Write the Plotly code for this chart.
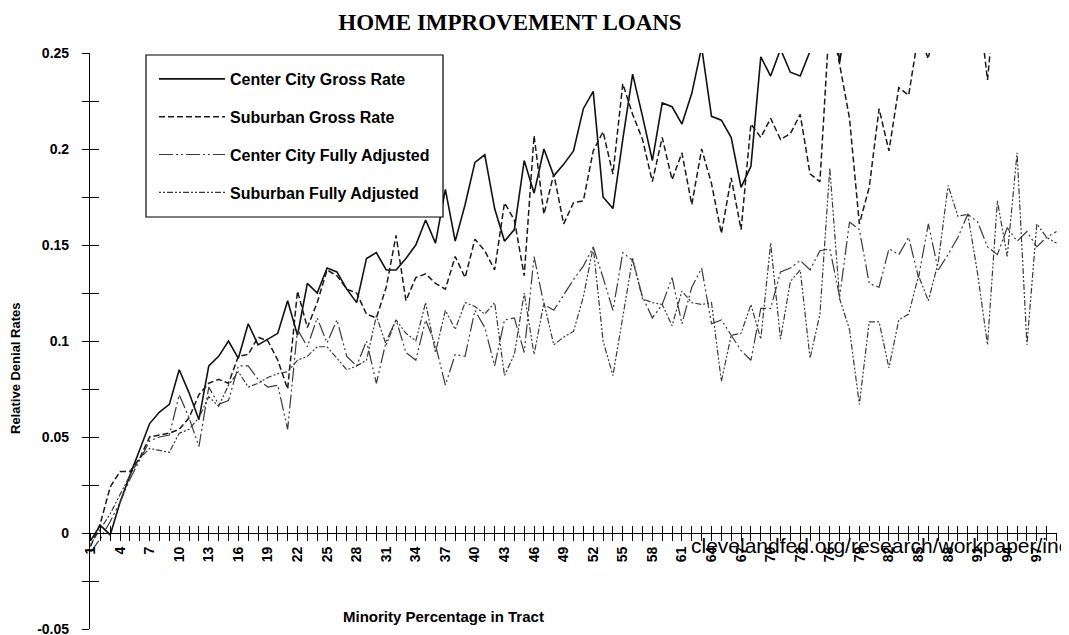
import plotly.graph_objects as go

# ---------------- data ----------------
categories = list(range(1, 100))  # minority percentage in tract

x_tick_labels = [str(c) if (c - 1) % 3 == 0 else "" for c in categories]

y_tick_values = [-0.05, -0.025, 0, 0.025, 0.05, 0.075, 0.1, 0.125, 0.15, 0.175, 0.2, 0.225, 0.25]
y_tick_labels = ["-0.05", "", "0", "", "0.05", "", "0.1", "", "0.15", "", "0.2", "", "0.25"]

center_city_gross = [
    -0.004, 0.004, -0.001, 0.016, 0.030, 0.043, 0.057, 0.063, 0.067, 0.085,
    0.073, 0.059, 0.087, 0.092, 0.100, 0.091, 0.109, 0.098, 0.101, 0.104,
    0.121, 0.103, 0.130, 0.125, 0.138, 0.136, 0.127, 0.120, 0.143, 0.146,
    0.137, 0.137, 0.143, 0.150, 0.163, 0.151, 0.179, 0.152, 0.171, 0.193,
    0.197, 0.169, 0.152, 0.158, 0.194, 0.177, 0.200, 0.186, 0.192, 0.199,
    0.221, 0.230, 0.175, 0.169, 0.205, 0.239, 0.217, 0.194, 0.224, 0.222,
    0.213, 0.229, 0.253, 0.217, 0.215, 0.206, 0.180, 0.191, 0.248, 0.238,
    0.252, 0.240, 0.238, 0.251, 0.270, 0.290, 0.245, 0.280, 0.270, 0.300,
    0.290, 0.310, 0.280, 0.300, 0.320, 0.290, 0.310, 0.300, 0.330, 0.290,
    0.310, 0.280, 0.300, 0.320, 0.290, 0.310, 0.300, 0.280, 0.300,
]

suburban_gross = [
    -0.007, 0.005, 0.024, 0.032, 0.032, 0.039, 0.050, 0.051, 0.052, 0.054,
    0.060, 0.072, 0.078, 0.080, 0.078, 0.092, 0.093, 0.102, 0.100, 0.090,
    0.075, 0.126, 0.107, 0.120, 0.137, 0.134, 0.127, 0.125, 0.114, 0.112,
    0.128, 0.155, 0.121, 0.133, 0.135, 0.130, 0.127, 0.144, 0.133, 0.153,
    0.147, 0.137, 0.172, 0.163, 0.134, 0.207, 0.166, 0.187, 0.161, 0.172,
    0.173, 0.199, 0.209, 0.187, 0.234, 0.218, 0.205, 0.183, 0.206, 0.184,
    0.198, 0.171, 0.200, 0.182, 0.156, 0.185, 0.158, 0.213, 0.206, 0.216,
    0.205, 0.208, 0.218, 0.187, 0.183, 0.270, 0.244, 0.216, 0.161, 0.180,
    0.221, 0.199, 0.232, 0.228, 0.260, 0.247, 0.280, 0.300, 0.290, 0.310,
    0.280, 0.236, 0.290, 0.310, 0.300, 0.320, 0.290, 0.300, 0.310,
]

center_city_adjusted = [
    -0.010, -0.003, 0.006, 0.016, 0.028, 0.038, 0.048, 0.050, 0.051, 0.072,
    0.060, 0.045, 0.076, 0.067, 0.069, 0.087, 0.087, 0.080, 0.076, 0.077,
    0.054, 0.106, 0.097, 0.112, 0.099, 0.111, 0.092, 0.087, 0.100, 0.078,
    0.100, 0.111, 0.094, 0.090, 0.111, 0.098, 0.077, 0.093, 0.092, 0.116,
    0.107, 0.087, 0.111, 0.112, 0.094, 0.144, 0.119, 0.116, 0.124, 0.132,
    0.139, 0.149, 0.133, 0.116, 0.146, 0.142, 0.123, 0.112, 0.119, 0.133,
    0.109, 0.128, 0.138, 0.109, 0.111, 0.103, 0.095, 0.090, 0.117, 0.117,
    0.136, 0.138, 0.142, 0.137, 0.147, 0.148, 0.123, 0.162, 0.158, 0.130,
    0.128, 0.148, 0.145, 0.154, 0.133, 0.161, 0.137, 0.145, 0.154, 0.166,
    0.162, 0.149, 0.145, 0.159, 0.152, 0.157, 0.149, 0.154, 0.157,
]

suburban_adjusted = [
    -0.006, 0.002, 0.010, 0.020, 0.030, 0.039, 0.044, 0.043, 0.042, 0.052,
    0.054, 0.060, 0.071, 0.066, 0.077, 0.084, 0.076, 0.078, 0.081, 0.083,
    0.084, 0.090, 0.092, 0.097, 0.097, 0.091, 0.085, 0.087, 0.090, 0.113,
    0.098, 0.111, 0.104, 0.100, 0.120, 0.094, 0.116, 0.106, 0.120, 0.118,
    0.114, 0.120, 0.082, 0.093, 0.125, 0.093, 0.120, 0.098, 0.102, 0.105,
    0.123, 0.149, 0.100, 0.082, 0.113, 0.143, 0.122, 0.120, 0.119, 0.108,
    0.126, 0.120, 0.119, 0.120, 0.079, 0.103, 0.104, 0.119, 0.101, 0.151,
    0.101, 0.131, 0.137, 0.091, 0.114, 0.190, 0.122, 0.106, 0.067, 0.110,
    0.110, 0.086, 0.111, 0.114, 0.134, 0.121, 0.141, 0.181, 0.165, 0.166,
    0.135, 0.098, 0.173, 0.144, 0.198, 0.098, 0.161, 0.154, 0.151,
]

series_names = [
    "Center City Gross Rate",
    "Suburban Gross Rate",
    "Center City Fully Adjusted",
    "Suburban Fully Adjusted",
]

# ---------------- geometry (screen pixels) ----------------
PAGE_OFFSET = 8                 # default body margin of the html page
FIG_W, FIG_H = 1069 - PAGE_OFFSET, 635 - PAGE_OFFSET + 4
PLOT_L, PLOT_T, PLOT_W, PLOT_H = 90, 53, 967, 576   # screen coords of plot area


def px(x):
    return (x - PLOT_L) / PLOT_W


def py(y):
    return (PLOT_T + PLOT_H - y) / PLOT_H


# ---------------- figure ----------------
fig = go.Figure()

styles = [
    dict(color="#111111", width=1.6, dash="solid"),
    dict(color="#1a1a1a", width=1.5, dash="6px,3px"),
    dict(color="#3a3a3a", width=1.2, dash="14px,3px,2px,3px,2px,3px"),
    dict(color="#3a3a3a", width=1.2, dash="2px,2px,2px,2px,6px,2px"),
]

for i, (name, vals) in enumerate(zip(series_names,
                                     [center_city_gross, suburban_gross,
                                      center_city_adjusted, suburban_adjusted])):
    fig.add_trace(go.Scatter(
        x=categories, y=vals, mode="lines", name=name,
        line=styles[i], legendgroup=f"g{i}",
    ))

# helper trace so the overlaid tick axes are drawn
fig.add_trace(go.Scatter(x=[None], y=[None], xaxis="x2", yaxis="y2",
                         showlegend=False, hoverinfo="skip"))

sans = "Liberation Sans, Arial, sans-serif"
tick_font = dict(family=sans, size=14, color="black", weight="bold")
x_range = [0.95, 99.05]
y_range = [-0.05, 0.25]
zero_pos = (0 - y_range[0]) / (y_range[1] - y_range[0])

fig.update_layout(
    width=FIG_W, height=FIG_H,
    margin=dict(l=PLOT_L - PAGE_OFFSET, r=FIG_W - (PLOT_L - PAGE_OFFSET) - PLOT_W,
                t=PLOT_T - PAGE_OFFSET, b=FIG_H - (PLOT_T - PAGE_OFFSET) - PLOT_H),
    paper_bgcolor="white", plot_bgcolor="white",
    showlegend=True,
    title=dict(
        text="<b>HOME IMPROVEMENT LOANS</b>",
        font=dict(family="Liberation Serif, Times New Roman, serif", size=23, color="black"),
        x=(510 - PAGE_OFFSET) / FIG_W, xanchor="center", xref="container",
        y=1 - 6 / FIG_H, yanchor="top", yref="container",
    ),
    xaxis=dict(
        range=x_range, anchor="free", position=zero_pos, automargin=False,
        tickmode="array", tickvals=categories, ticktext=x_tick_labels,
        tickangle=-90, ticks="outside", ticklen=7, tickwidth=1, tickcolor="black",
        showline=True, linecolor="black", linewidth=1.2,
        showgrid=False, zeroline=False, tickfont=tick_font,
    ),
    xaxis2=dict(
        range=x_range, overlaying="x", anchor="free", position=zero_pos, automargin=False,
        tickmode="array", tickvals=categories, ticks="inside", ticklen=7,
        tickwidth=1, tickcolor="black", showticklabels=False,
        showline=False, showgrid=False, zeroline=False,
    ),
    yaxis=dict(
        range=y_range, tickmode="array", tickvals=y_tick_values, ticktext=y_tick_labels,
        automargin=False,
        ticks="outside", ticklen=7, tickwidth=1, tickcolor="black",
        showline=True, linecolor="black", linewidth=1.2,
        showgrid=False, zeroline=False, tickfont=tick_font,
        ticklabelstandoff=10, ticklabeloverflow="allow",
    ),
    yaxis2=dict(
        range=y_range, overlaying="y", tickmode="array", tickvals=y_tick_values,
        automargin=False,
        ticks="inside", ticklen=9, tickwidth=1, tickcolor="black",
        showticklabels=False, showline=False, showgrid=False, zeroline=False,
    ),
    legend=dict(
        x=px(154), xanchor="left", y=py(62), yanchor="top",
        bgcolor="rgba(0,0,0,0)", borderwidth=0,
        font=dict(family=sans, size=16, color="black", weight="bold"),
        tracegroupgap=14, itemwidth=66,
    ),
    shapes=[
        dict(type="rect", xref="paper", yref="paper",
             x0=px(146), x1=px(443), y0=py(217), y1=py(55),
             line=dict(color="black", width=1.2), fillcolor="white", layer="above"),
    ],
    annotations=[
        dict(text="<b>Relative Denial Rates</b>", textangle=-90,
             x=px(15), y=py(368), xref="paper", yref="paper",
             xanchor="center", yanchor="middle", showarrow=False,
             font=dict(family=sans, size=13, color="black")),
        dict(text="<b>Minority Percentage in Tract</b>",
             x=px(443), y=py(616), xref="paper", yref="paper",
             xanchor="center", yanchor="middle", showarrow=False,
             font=dict(family=sans, size=15, color="black")),
        dict(text="clevelandfed.org/research/workpaper/inc",
             x=px(689), y=py(545), xref="paper", yref="paper",
             xanchor="left", yanchor="middle", showarrow=False,
             font=dict(family=sans, size=21, color="black")),
    ],
)

fig.write_html("out.html")
